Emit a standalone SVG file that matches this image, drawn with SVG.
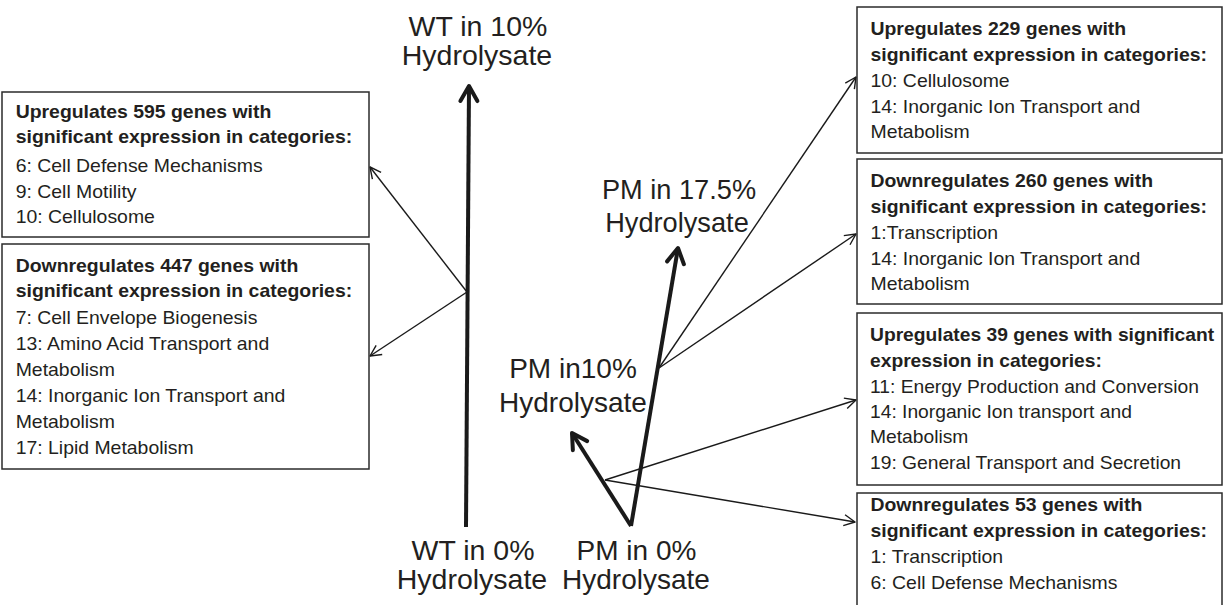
<svg xmlns="http://www.w3.org/2000/svg" width="1223" height="605" viewBox="0 0 1223 605">
<style>
  .box { fill: #ffffff; stroke: #2b2b2b; stroke-width: 1.5; }
  .bt { font-family: "Liberation Sans", Arial, sans-serif; font-size: 17.5px; fill: #231f20; }
  .b { font-weight: bold; }
  .lbl { font-family: "Liberation Sans", Arial, sans-serif; font-size: 28.5px; fill: #231f20; text-anchor: middle; }
  .thick { fill: none; stroke: #1a1a1a; stroke-width: 4; }
  .thin { fill: none; stroke: #1a1a1a; stroke-width: 1.4; }
</style>
<defs>
  <marker id="ahThick" markerUnits="userSpaceOnUse" viewBox="-22 -14 26 28" refX="0" refY="0" markerWidth="26" markerHeight="28" orient="auto">
    <path d="M-15,-8.5 L0,0 L-15,8.5" fill="none" stroke="#1a1a1a" stroke-width="4" stroke-linejoin="round" stroke-linecap="round"/>
  </marker>
  <marker id="ahThin" markerUnits="userSpaceOnUse" viewBox="-16 -10 20 20" refX="0" refY="0" markerWidth="20" markerHeight="20" orient="auto">
    <path d="M-11,-5.5 L0,0 L-11,5.5" fill="none" stroke="#1a1a1a" stroke-width="1.4" stroke-linejoin="round"/>
  </marker>
</defs>
<rect width="1223" height="605" fill="#ffffff"/>

<g id="connectors">
  <line class="thick" x1="466" y1="527" x2="469" y2="86" marker-end="url(#ahThick)"/>
  <line class="thick" x1="631" y1="526" x2="572" y2="433" marker-end="url(#ahThick)"/>
  <line class="thick" x1="631" y1="526" x2="678" y2="248" marker-end="url(#ahThick)"/>
  <line class="thin" x1="467" y1="292" x2="370" y2="167" marker-end="url(#ahThin)"/>
  <line class="thin" x1="467" y1="292" x2="370" y2="356" marker-end="url(#ahThin)"/>
  <line class="thin" x1="659" y1="368" x2="856" y2="77" marker-end="url(#ahThin)"/>
  <line class="thin" x1="659" y1="368" x2="856" y2="234" marker-end="url(#ahThin)"/>
  <line class="thin" x1="605" y1="480" x2="856" y2="400" marker-end="url(#ahThin)"/>
  <line class="thin" x1="605" y1="480" x2="855" y2="522" marker-end="url(#ahThin)"/>
</g>

<g id="wt10">
  <text class="lbl" x="478" y="36">WT in 10%</text>
  <text class="lbl" x="477" y="65">Hydrolysate</text>
</g>
<g id="wt0">
  <text class="lbl" x="473" y="560">WT in 0%</text>
  <text class="lbl" x="472" y="589">Hydrolysate</text>
</g>
<g id="pm0">
  <text class="lbl" x="636.5" y="560" style="font-size:28px">PM in 0%</text>
  <text class="lbl" x="636" y="589" style="font-size:28px">Hydrolysate</text>
</g>
<g id="pm10">
  <text class="lbl" x="573" y="378" style="font-size:28px">PM in10%</text>
  <text class="lbl" x="573" y="412" style="font-size:28px">Hydrolysate</text>
</g>
<g id="pm175">
  <text class="lbl" x="679" y="199" style="font-size:27.2px">PM in 17.5%</text>
  <text class="lbl" x="677" y="232" style="font-size:27.2px">Hydrolysate</text>
</g>

<g id="wt-up">
  <rect class="box" x="2" y="92" width="367" height="145"/>
  <g transform="translate(15.7,0) scale(1.11,1)">
    <text class="bt b" x="0" y="118">Upregulates 595 genes with</text>
    <text class="bt b" x="0" y="143.5">significant expression in categories:</text>
    <text class="bt" x="0" y="172">6: Cell Defense Mechanisms</text>
    <text class="bt" x="0" y="198">9: Cell Motility</text>
    <text class="bt" x="0" y="223">10: Cellulosome</text>
  </g>
</g>
<g id="wt-down">
  <rect class="box" x="2" y="244" width="367" height="225"/>
  <g transform="translate(15.7,0) scale(1.11,1)">
    <text class="bt b" x="0" y="272">Downregulates 447 genes with</text>
    <text class="bt b" x="0" y="297">significant expression in categories:</text>
    <text class="bt" x="0" y="324">7: Cell Envelope Biogenesis</text>
    <text class="bt" x="0" y="350">13: Amino Acid Transport and</text>
    <text class="bt" x="0" y="376">Metabolism</text>
    <text class="bt" x="0" y="402">14: Inorganic Ion Transport and</text>
    <text class="bt" x="0" y="428">Metabolism</text>
    <text class="bt" x="0" y="454">17: Lipid Metabolism</text>
  </g>
</g>
<g id="pm175-up">
  <rect class="box" x="857" y="7" width="365" height="146"/>
  <g transform="translate(870.5,0) scale(1.11,1)">
    <text class="bt b" x="0" y="35">Upregulates 229 genes with</text>
    <text class="bt b" x="0" y="61.5">significant expression in categories:</text>
    <text class="bt" x="0" y="87">10: Cellulosome</text>
    <text class="bt" x="0" y="113">14: Inorganic Ion Transport and</text>
    <text class="bt" x="0" y="138.5">Metabolism</text>
  </g>
</g>
<g id="pm175-down">
  <rect class="box" x="857" y="159" width="365" height="145"/>
  <g transform="translate(870.5,0) scale(1.11,1)">
    <text class="bt b" x="0" y="187">Downregulates 260 genes with</text>
    <text class="bt b" x="0" y="213">significant expression in categories:</text>
    <text class="bt" x="0" y="239">1:Transcription</text>
    <text class="bt" x="0" y="265">14: Inorganic Ion Transport and</text>
    <text class="bt" x="0" y="290">Metabolism</text>
  </g>
</g>
<g id="pm10-up">
  <rect class="box" x="857" y="313" width="365" height="172"/>
  <g transform="translate(870,0) scale(1.10,1)">
    <text class="bt b" x="0" y="341.5">Upregulates 39 genes with significant</text>
    <text class="bt b" x="0" y="367">expression in categories:</text>
    <text class="bt" x="0" y="393">11: Energy Production and Conversion</text>
    <text class="bt" x="0" y="418">14: Inorganic Ion transport and</text>
    <text class="bt" x="0" y="443.5">Metabolism</text>
    <text class="bt" x="0" y="469">19: General Transport and Secretion</text>
  </g>
</g>
<g id="pm10-down">
  <rect class="box" x="857" y="493" width="365" height="125"/>
  <g transform="translate(870.5,0) scale(1.11,1)">
    <text class="bt b" x="0" y="511.5">Downregulates 53 genes with</text>
    <text class="bt b" x="0" y="537.5">significant expression in categories:</text>
    <text class="bt" x="0" y="563.5">1: Transcription</text>
    <text class="bt" x="0" y="589.5">6: Cell Defense Mechanisms</text>
  </g>
</g>
</svg>
